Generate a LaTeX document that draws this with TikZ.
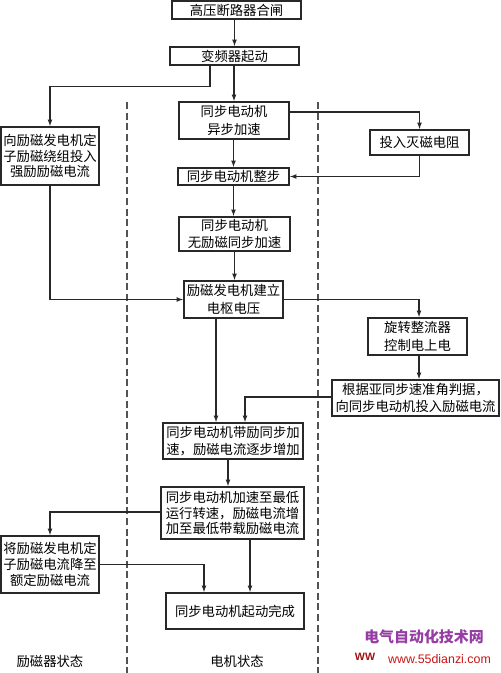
\documentclass[tikz,border=0pt]{standalone}
\usepackage{fontspec}
\newfontfamily\cjk{Noto Sans CJK SC}
\newfontfamily\latinsans{Liberation Sans}
\usetikzlibrary{arrows.meta,calc}
\definecolor{linec}{RGB}{40,40,40}
\definecolor{wmpurple}{RGB}{150,60,165}
\definecolor{wmred}{RGB}{200,20,20}
\tikzset{
  box/.style={draw=linec,line width=1pt,inner sep=0pt,align=center,
    font=\cjk\fontsize{10pt}{13pt}\selectfont,text=black},
  tri/.style={box,font=\cjk\fontsize{10pt}{11.8pt}\selectfont},
  arr/.style={draw=linec,line width=0.8pt,-{Latex[length=5pt,width=3.6pt]}},
  lane/.style={draw=linec!80,line width=1pt,dash pattern=on 5.2pt off 2.8pt},
  lbl/.style={inner sep=0pt,font=\cjk\fontsize{10pt}{12pt}\selectfont,text=black}
}
\begin{document}
\begin{tikzpicture}[x=0.75pt,y=-0.75pt]
\useasboundingbox (0,0) rectangle (500,673);
% lanes
\draw[lane] (127,102) -- (127,673);
\draw[lane] (318,102) -- (318,673);
% boxes
\node[box,minimum width=96.75pt,minimum height=13.5pt] (b1) at (236.5,10) {高压断路器合闸};
\node[box,minimum width=96.75pt,minimum height=13.5pt] (b2) at (234.5,56) {变频器起动};
\node[tri,minimum width=73.5pt,minimum height=43.5pt] (L1) at (50,156) {向励磁发电机定\\子励磁绕组投入\\强励励磁电流};
\node[box,minimum width=82.5pt,minimum height=27.75pt] (b3) at (234,120.5) {同步电动机\\异步加速};
\node[box,minimum width=74.25pt,minimum height=18.75pt] (R1) at (419.5,142.5) {投入灭磁电阻};
\node[box,minimum width=83.25pt,minimum height=12.75pt] (b4) at (233.5,176.5) {同步电动机整步};
\node[box,minimum width=83.25pt,minimum height=25.5pt] (b5) at (234.5,234) {同步电动机\\无励磁同步加速};
\node[box,minimum width=74.25pt,minimum height=27.75pt] (b6) at (233.5,299.5) {励磁发电机建立\\电枢电压};
\node[box,minimum width=74.25pt,minimum height=27.75pt] (R2) at (417.5,336.5) {旋转整流器\\控制电上电};
\node[box,minimum width=125.25pt,minimum height=27pt] (R3) at (415.5,398) {根据亚同步速准角判据，\\向同步电动机投入励磁电流};
\node[box,minimum width=105pt,minimum height=27pt] (b7) at (233,441) {同步电动机带励同步加\\速，励磁电流逐步增加};
\node[tri,minimum width=107.25pt,minimum height=39pt] (b8) at (232.5,513) {同步电动机加速至最低\\运行转速，励磁电流增\\加至最低带载励磁电流};
\node[tri,minimum width=73.5pt,minimum height=42.75pt] (L2) at (50,564.5) {将励磁发电机定\\子励磁电流降至\\额定励磁电流};
\node[box,minimum width=103.5pt,minimum height=27pt] (b10) at (235,611) {同步电动机起动完成};
% connectors
\draw[arr] (b2.north |- b1.south) -- (b2.north);
\draw[arr] (b3.north |- b2.south) -- (b3.north);
\draw[arr] ($(b2.south)+(-24.5,0)$) -- ++(0,21) -| (L1.north);
\draw[arr] ($(b3.east)+(0,-8.5)$) -| (R1.north);
\draw[arr] (b4.north |- b3.south) -- (b4.north);
\draw[arr] (R1.south) |- (b4.east);
\draw[arr] (b4.south) -- (b4.south |- b5.north);
\draw[arr] (b5.south) -- (b5.south |- b6.north);
\draw[arr] (L1.south) |- (b6.west);
\draw[arr] (b6.east) -| ($(R2.north)+(1.5,0)$);
\draw[arr] ($(R2.south)+(1.5,0)$) coordinate (r2s) -- (r2s |- R3.north);
\draw[arr] ($(b6.south)+(-17.5,0)$) coordinate (b6s) -- (b6s |- b7.north);
\draw[arr] ($(R3.west)+(0,-1)$) -| ($(b7.north)+(12,0)$);
\draw[arr] ($(b7.south)+(-5,0)$) coordinate (b7s) -- (b7s |- b8.north);
\draw[arr] ($(b8.west)+(0,-1)$) -| (L2.north);
\draw[arr] (L2.east) -| ($(b10.north)+(-31,0)$);
\draw[arr] ($(b8.south)+(17.5,0)$) coordinate (b8s) -- (b8s |- b10.north);
% lane labels
\node[lbl] (lab1) at (50,661) {励磁器状态};
\node[lbl] (lab2) at (237,661) {电机状态};
% watermark
\node[inner sep=0pt,text=wmpurple,font=\cjk\bfseries\fontsize{11.2pt}{12pt}\selectfont] (wm1) at (424,637) {电气自动化技术网};
\node[inner sep=0pt,text=wmred,font=\latinsans\fontsize{9.3pt}{11pt}\selectfont] (wm2) at (439.5,659.5) {www.55dianzi.com};
\node[inner sep=0pt,text=wmred!80!black,font=\latinsans\bfseries\fontsize{8pt}{9pt}\selectfont] (wm3) at (365,657) {WW};
\end{tikzpicture}
\end{document}
